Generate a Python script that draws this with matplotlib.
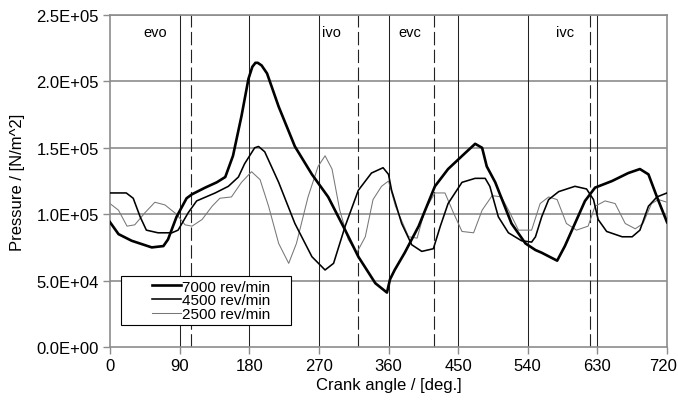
import matplotlib
matplotlib.use("Agg")
import matplotlib.pyplot as plt
from matplotlib.ticker import FuncFormatter
from matplotlib.lines import Line2D
from matplotlib.legend_handler import HandlerLine2D
from matplotlib.transforms import ScaledTranslation

plt.rcParams['font.family'] = ['Liberation Sans', 'DejaVu Sans']

# ---- data (pressure in units of 1e5 N/m^2) ----
angle_7000 = [0, 11, 28, 54, 69, 75, 86, 99, 106, 123, 138, 149, 159, 170, 179, 184, 188, 191,
              196, 203, 218, 239, 261, 282, 304, 321, 343, 358, 362, 368, 381, 399, 420, 437,
              459, 472, 481, 487, 498, 519, 537, 550, 558, 578, 588, 601, 614, 627, 649,
              670, 685, 696, 707, 720]
p_7000 = [0.94, 0.85, 0.80, 0.75, 0.76, 0.81, 0.98, 1.12, 1.15, 1.20, 1.24, 1.28, 1.44,
          1.74, 2.02, 2.11, 2.14, 2.14, 2.12, 2.06, 1.81, 1.51, 1.30, 1.13, 0.88, 0.68,
          0.48, 0.41, 0.51, 0.58, 0.71, 0.91, 1.21, 1.34, 1.46, 1.53, 1.50, 1.36, 1.24,
          0.93, 0.78, 0.73, 0.71, 0.65, 0.76, 0.93, 1.10, 1.20, 1.25, 1.31, 1.34, 1.30,
          1.13, 0.94]

angle_4500 = [0, 21, 30, 39, 47, 62, 80, 88, 101, 112, 136, 153, 166, 174, 187, 192, 200,
              218, 239, 261, 278, 289, 304, 321, 338, 353, 360, 364, 377, 390, 403, 418,
              427, 437, 455, 472, 485, 491, 502, 515, 532, 545, 550, 558, 567, 580, 601,
              616, 625, 631, 642, 662, 675, 685, 696, 707, 720]
p_4500 = [1.16, 1.16, 1.12, 0.98, 0.88, 0.86, 0.86, 0.88, 1.01, 1.10, 1.16, 1.21, 1.28,
          1.38, 1.50, 1.51, 1.47, 1.24, 0.93, 0.68, 0.58, 0.63, 0.91, 1.18, 1.31, 1.35,
          1.30, 1.18, 0.93, 0.77, 0.72, 0.74, 0.91, 1.08, 1.24, 1.27, 1.27, 1.21, 0.98,
          0.86, 0.80, 0.79, 0.83, 0.98, 1.11, 1.17, 1.21, 1.19, 1.11, 0.96, 0.87, 0.83,
          0.83, 0.88, 1.06, 1.13, 1.16]

angle_2500 = [0, 11, 22, 32, 45, 58, 71, 86, 97, 106, 119, 132, 142, 157, 170, 183, 194,
              205, 218, 231, 241, 256, 269, 278, 287, 297, 308, 319, 330, 340, 351, 360,
              369, 386, 397, 407, 420, 433, 444, 455, 470, 481, 494, 506, 517, 528, 541,
              545, 556, 567, 578, 590, 603, 618, 627, 640, 653, 666, 679, 689, 700, 709, 720]
p_2500 = [1.08, 1.03, 0.91, 0.92, 1.01, 1.09, 1.07, 1.00, 0.92, 0.91, 0.96, 1.06, 1.12,
          1.13, 1.24, 1.32, 1.26, 1.06, 0.78, 0.63, 0.78, 1.13, 1.36, 1.44, 1.34, 1.03,
          0.81, 0.71, 0.83, 1.11, 1.21, 1.25, 1.06, 0.83, 0.82, 1.03, 1.16, 1.16, 1.01,
          0.87, 0.86, 1.03, 1.14, 1.13, 1.01, 0.88, 0.88, 0.88, 1.08, 1.13, 1.11, 0.93,
          0.88, 0.91, 1.06, 1.10, 1.08, 0.93, 0.89, 0.93, 1.08, 1.11, 1.09]

series_labels = ['7000 rev/min', '4500 rev/min', '2500 rev/min']

valve_events = ['evo', 'ivo', 'evc', 'ivc']
valve_angles = [105, 320, 419, 620]
valve_label_angles = [58, 286, 388, 588]

x_ticks = [0, 90, 180, 270, 360, 450, 540, 630, 720]
y_ticks = [0, 5e4, 1e5, 1.5e5, 2e5, 2.5e5]

scale = 1e5

# ---- figure ----
fig = plt.figure(figsize=(6.78, 4.02), dpi=100)
ax = fig.add_axes([110 / 678, 1 - 348 / 402, 557 / 678, 332 / 402])

ax.set_xlim(0, 720)
ax.set_ylim(0, 2.5e5)

grid_gray = '#8c8c8c'
for yv in y_ticks[1:]:
    ax.axhline(yv, color=grid_gray, lw=1.2, zorder=1)
for xv in x_ticks[1:-1]:
    ax.axvline(xv, color='#222222', lw=0.75, zorder=1)
for xv in valve_angles:
    ax.axvline(xv, color='#222222', lw=0.8, dashes=(12, 4), zorder=1)
for name, xa in zip(valve_events, valve_label_angles):
    ax.text(xa, 2.37e5, name, ha='center', va='center', fontsize=10.5, color='black')

ax.plot(angle_7000, [v * scale for v in p_7000], color='black', lw=1.9,
        label=series_labels[0], zorder=4)
ax.plot(angle_4500, [v * scale for v in p_4500], color='black', lw=1.15,
        label=series_labels[1], zorder=3)
ax.plot(angle_2500, [v * scale for v in p_2500], color='#777777', lw=0.75,
        label=series_labels[2], zorder=2)

ax.set_xticks(x_ticks)
ax.set_yticks(y_ticks)
ax.yaxis.set_major_formatter(FuncFormatter(lambda v, p: f"{v:.1E}"))
ax.tick_params(axis='both', direction='out', length=5, width=1, color=grid_gray,
               labelsize=12, pad=3)
for s in ax.spines.values():
    s.set_color(grid_gray)
    s.set_linewidth(1.2)

# keep the last x tick label inside the figure (as in the reference)
last_lbl = ax.get_xticklabels()[-1]
last_lbl.set_transform(last_lbl.get_transform() +
                       ScaledTranslation(-4 / 100, 0, fig.dpi_scale_trans))

ax.set_xlabel('Crank angle / [deg.]', fontsize=12, labelpad=3)
ax.set_ylabel('Pressure / [N/m^2]', fontsize=12, labelpad=8)

leg = ax.legend(loc='upper left', bbox_to_anchor=(0.0197, 0.069, 0.305, 0.145),
                mode='expand', borderaxespad=0,
                fontsize=11, frameon=True, fancybox=False, edgecolor='black',
                framealpha=1, borderpad=0.25, labelspacing=-0.02,
                handlelength=3.7, handletextpad=0.05,
                handler_map={Line2D: HandlerLine2D(xpad=1.8)})
leg.get_frame().set_linewidth(0.8)
leg.set_zorder(5)

fig.savefig('out.png', dpi=100)
